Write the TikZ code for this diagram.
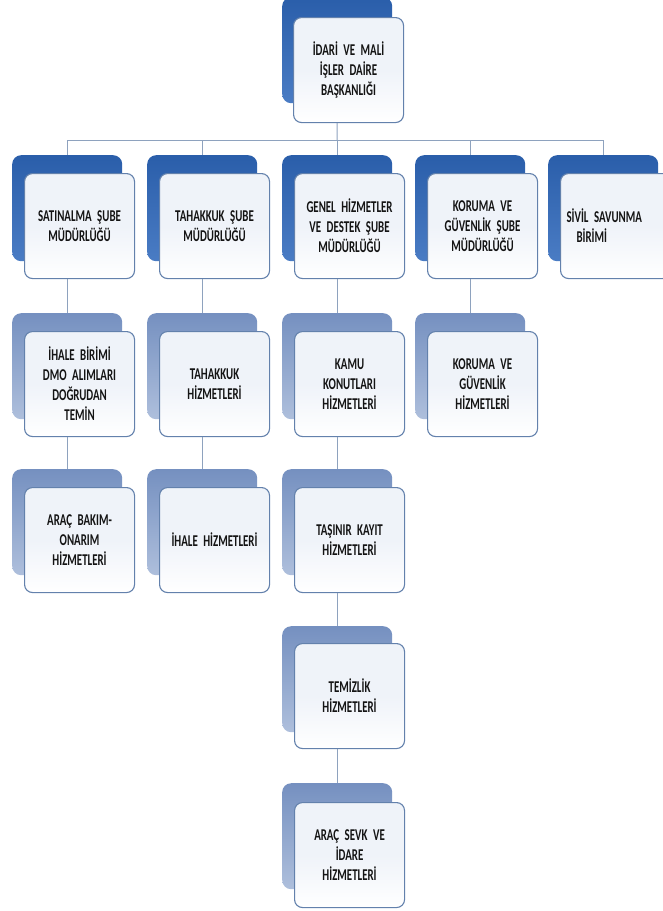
\documentclass[tikz,border=0pt]{standalone}
\usepackage{fontspec}
\setmainfont{Carlito}[BoldFont={Carlito Bold}]
\newfontfamily\boxfam{Carlito Bold}[FakeStretch=0.66]
\newcommand\boxfontsel{\boxfam\fontsize{16.5}{20}\selectfont\spaceskip=3.5pt plus 1pt minus 1pt\relax}
\definecolor{blueAtop}{HTML}{2A5EAA}
\definecolor{blueAbot}{HTML}{4A7CC4}
\definecolor{blueBtop}{HTML}{7590C0}
\definecolor{blueBbot}{HTML}{AEBFDC}
\definecolor{frontfill}{HTML}{EFF3F9}
\definecolor{frontdraw}{HTML}{6381AC}
\definecolor{connC}{HTML}{8EA2BE}
\tikzset{
  backbox/.style={rounded corners=9pt, minimum width=110pt, minimum height=106pt, anchor=north west, inner sep=0pt},
  backA/.style={backbox, top color=blueAtop, bottom color=blueAbot},
  backB/.style={backbox, top color=blueBtop, bottom color=blueBbot},
  frontbox/.style={draw=frontdraw, line width=1.1pt, top color=frontfill, bottom color=white, middle color=frontfill, rounded corners=8pt, minimum width=110pt, minimum height=105pt, anchor=north west, align=center, text width=106pt, inner sep=0pt, font=\boxfontsel, text=black!92},
  conn/.style={draw=connC, line width=1pt}
}
\begin{document}
\begin{tikzpicture}[x=1pt,y=-1pt]
\useasboundingbox (0,0) rectangle (663,911);
% root
\node[backA] (rootb) at (282,-3) {};
\node[frontbox] (root) at (293,17) {İDARİ VE MALİ\\İŞLER DAİRE\\BAŞKANLIĞI};
% level 1
\node[backA] (s1b) at (12,155) {};
\node[frontbox] (s1) at (24,173) {SATINALMA ŞUBE\\MÜDÜRLÜĞÜ};
\node[backA] (t1b) at (147,155) {};
\node[frontbox] (t1) at (159,173) {TAHAKKUK ŞUBE\\MÜDÜRLÜĞÜ};
\node[backA] (g1b) at (282,155) {};
\node[frontbox] (g1) at (294,173) {GENEL HİZMETLER\\VE DESTEK ŞUBE\\MÜDÜRLÜĞÜ};
\node[backA] (k1b) at (415,155) {};
\node[frontbox] (k1) at (427,173) {KORUMA VE\\GÜVENLİK ŞUBE\\MÜDÜRLÜĞÜ};
\node[backA] (v1b) at (548,155) {};
\node[frontbox, align=left, text width=102pt] (v1) at (560,173) {\hspace*{2pt}SİVİL SAVUNMA\\\hspace*{12pt}BİRİMİ};
% level 2
\node[backB] (s2b) at (12,313) {};
\node[frontbox] (s2) at (24,331) {İHALE BİRİMİ\\DMO ALIMLARI\\DOĞRUDAN\\TEMİN};
\node[backB] (t2b) at (147,313) {};
\node[frontbox] (t2) at (159,331) {TAHAKKUK\\HİZMETLERİ};
\node[backB] (g2b) at (282,313) {};
\node[frontbox] (g2) at (294,331) {KAMU\\KONUTLARI\\HİZMETLERİ};
\node[backB] (k2b) at (415,313) {};
\node[frontbox] (k2) at (427,331) {KORUMA VE\\GÜVENLİK\\HİZMETLERİ};
% level 3
\node[backB] (s3b) at (12,469) {};
\node[frontbox] (s3) at (24,487) {ARAÇ BAKIM-\\ONARIM\\HİZMETLERİ};
\node[backB] (t3b) at (147,469) {};
\node[frontbox] (t3) at (159,487) {İHALE HİZMETLERİ};
\node[backB] (g3b) at (282,469) {};
\node[frontbox] (g3) at (294,487) {TAŞINIR KAYIT\\HİZMETLERİ};
% level 4
\node[backB] (g4b) at (282,626) {};
\node[frontbox] (g4) at (294,643) {TEMİZLİK\\HİZMETLERİ};
% level 5
\node[backB] (g5b) at (282,783) {};
\node[frontbox] (g5) at (294,802) {ARAÇ SEVK VE\\İDARE\\HİZMETLERİ};
% connectors
\coordinate (bus) at (337,140);
\draw[conn] (root.south -| rootb.north) -- (bus);
\draw[conn] (bus -| s1b.north) -- (bus -| v1b.north);
\foreach \c in {s1b,t1b,g1b,k1b,v1b}{\draw[conn] (bus -| \c.north) -- (\c.north);}
\draw[conn] (s1.south -| s2b.north) -- (s2b.north);
\draw[conn] (s2.south -| s3b.north) -- (s3b.north);
\draw[conn] (t1.south -| t2b.north) -- (t2b.north);
\draw[conn] (t2.south -| t3b.north) -- (t3b.north);
\draw[conn] (g1.south -| g2b.north) -- (g2b.north);
\draw[conn] (g2.south -| g3b.north) -- (g3b.north);
\draw[conn] (g3.south -| g4b.north) -- (g4b.north);
\draw[conn] (g4.south -| g5b.north) -- (g5b.north);
\draw[conn] (k1.south -| k2b.north) -- (k2b.north);
\end{tikzpicture}
\end{document}
